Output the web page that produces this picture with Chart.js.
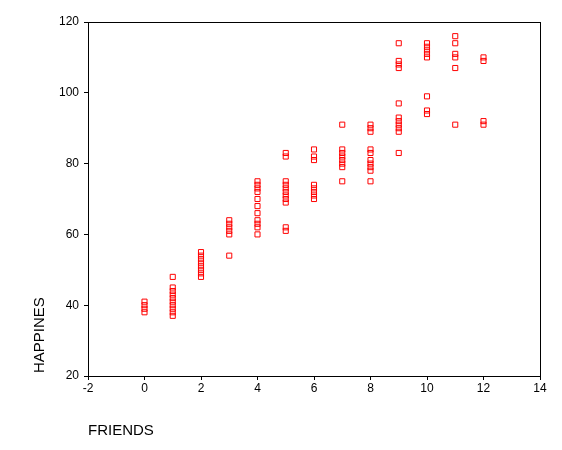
<!DOCTYPE html>
<html>
<head>
<meta charset="utf-8">
<script src="https://cdn.jsdelivr.net/npm/chart.js@4/dist/chart.umd.min.js"></script>
<style>
  html, body { margin: 0; padding: 0; background: #fff; }
  #wrap { width: 562px; height: 450px; }
</style>
</head>
<body>
<div id="wrap"><canvas id="chart" width="562" height="450"></canvas></div>
<script>
// values, one entry per case
const friends = [
    0, 0, 0, 0,
    1, 1, 1, 1, 1, 1, 1, 1, 1, 1,
    2, 2, 2, 2, 2, 2, 2, 2,
    3, 3, 3, 3, 3, 3,
    4, 4, 4, 4, 4, 4, 4, 4, 4, 4, 4,
    5, 5, 5, 5, 5, 5, 5, 5, 5, 5, 5,
    6, 6, 6, 6, 6, 6, 6, 6,
    7, 7, 7, 7, 7, 7, 7, 7,
    8, 8, 8, 8, 8, 8, 8, 8, 8, 8,
    9, 9, 9, 9, 9, 9, 9, 9, 9, 9, 9,
    10, 10, 10, 10, 10, 10, 10, 10,
    11, 11, 11, 11, 11, 11,
    12, 12, 12, 12
];
const happiness = [
    38, 39, 40, 41,
    37, 38, 39, 40, 41, 42, 43, 44, 45, 48,
    48, 49, 50, 51, 52, 53, 54, 55,
    54, 60, 61, 62, 63, 64,
    60, 62, 63, 64, 66, 68, 70, 72, 73, 74, 75,
    61, 62, 69, 70, 71, 72, 73, 74, 75, 82, 83,
    70, 71, 72, 73, 74, 81, 82, 84,
    75, 79, 80, 81, 82, 83, 84, 91,
    75, 78, 79, 80, 81, 83, 84, 89, 90, 91,
    83, 89, 90, 91, 92, 93, 97, 107, 108, 109, 114,
    94, 95, 99, 110, 111, 112, 113, 114,
    91, 107, 110, 111, 114, 116,
    91, 92, 109, 110
];
const xTitle = "FRIENDS";
const yTitle = "HAPPINES";

let puntos = [];
for (i in friends) {
    puntos.push({ x: friends[i], y: happiness[i] });
}

const fuente = "'Liberation Sans', Arial, sans-serif";

// box round the plot and the two axis titles
const marco = {
    id: 'marco',
    afterDraw(chart) {
        const ctx = chart.ctx;
        const a = chart.chartArea;
        ctx.save();
        ctx.strokeStyle = '#000';
        ctx.lineWidth = 1;
        ctx.strokeRect(a.left + 0.5, a.top + 0.5, a.right - a.left, a.bottom - a.top);
        ctx.fillStyle = '#000';
        ctx.font = "15px " + fuente;
        ctx.textBaseline = 'alphabetic';
        ctx.textAlign = 'left';
        ctx.fillText(xTitle, 88, 435);
        ctx.translate(44, 373);
        ctx.rotate(-Math.PI / 2);
        ctx.fillText(yTitle, 0, 0);
        ctx.restore();
    }
};

let ctx = document.getElementById('chart').getContext('2d');
let chart = new Chart(ctx, {
    type: 'scatter',
    data: {
        datasets: [{
            data: puntos,
            pointStyle: 'rect',
            pointRadius: 3.6,
            pointBorderWidth: 1,
            borderColor: '#ff0000',
            backgroundColor: 'rgba(0,0,0,0)'
        }]
    },
    options: {
        responsive: false,
        animation: false,
        layout: { padding: { left: 0, right: 22, top: 22, bottom: 0 } },
        plugins: { legend: { display: false }, tooltip: { enabled: false } },
        scales: {
            x: {
                type: 'linear',
                min: -2,
                max: 14,
                ticks: { stepSize: 2, color: '#000', padding: 1, font: { family: fuente, size: 12 } },
                grid: { drawOnChartArea: false, color: '#000', tickLength: 4 },
                border: { color: '#000' },
                afterFit: function (s) { s.height = 74; }
            },
            y: {
                min: 20,
                max: 120,
                ticks: { stepSize: 20, color: '#000', padding: 5, font: { family: fuente, size: 12 } },
                grid: { drawOnChartArea: false, color: '#000', tickLength: 4 },
                border: { color: '#000' },
                afterFit: function (s) { s.width = 88; }
            }
        }
    },
    plugins: [marco]
});
</script>
</body>
</html>
